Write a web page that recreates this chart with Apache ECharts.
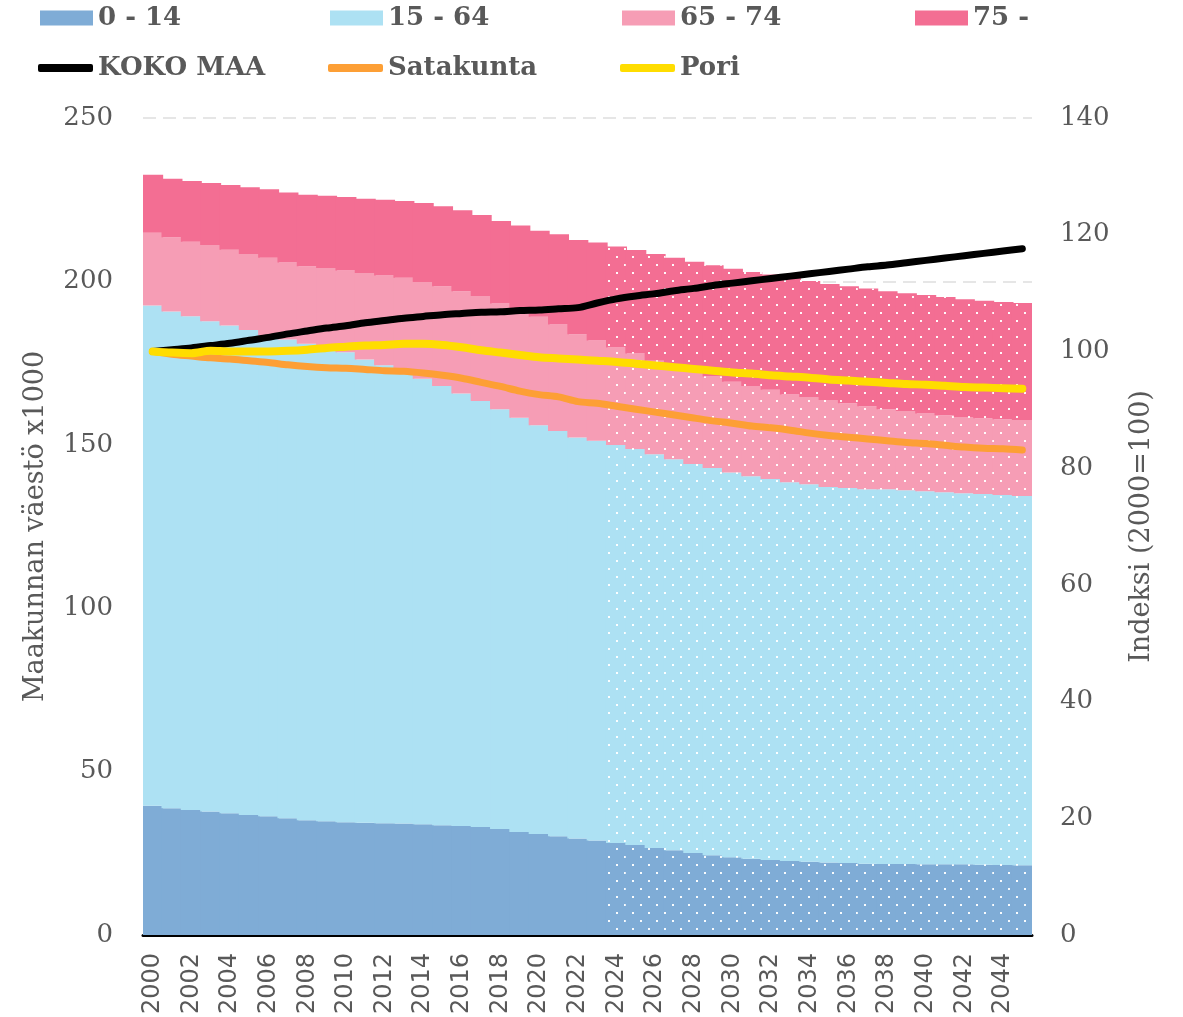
<!DOCTYPE html>
<html>
<head>
<meta charset="utf-8">
<script src="https://cdn.jsdelivr.net/npm/echarts@6/dist/echarts.min.js"></script>
<style>
html,body{margin:0;padding:0;background:#fff;}
#chart{width:1183px;height:1017px;}
</style>
</head>
<body>
<div id="chart"></div>
<script>
const years = ['2000','2001','2002','2003','2004','2005','2006','2007','2008','2009','2010','2011','2012','2013','2014','2015','2016','2017','2018','2019','2020','2021','2022','2023','2024','2025','2026','2027','2028','2029','2030','2031','2032','2033','2034','2035','2036','2037','2038','2039','2040','2041','2042','2043','2044','2045'];
const projectionStart = '2024';

// Population by age group, x1000 (left axis)
const age0_14 = [39.5,38.8,38.2,37.8,37.2,36.7,36.3,35.7,35.1,34.8,34.5,34.3,34.2,34.1,33.9,33.6,33.3,33.0,32.4,31.5,30.9,30.2,29.5,28.9,28.1,27.5,26.6,25.9,25.1,24.4,23.8,23.3,22.9,22.6,22.4,22.2,22.0,21.8,21.7,21.7,21.6,21.6,21.6,21.5,21.4,21.3];
const age15_64 = [153.1,152.0,151.1,150.0,149.3,148.4,147.2,146.5,145.8,145.0,143.8,141.8,140.1,138.0,136.3,134.4,132.4,130.4,128.5,126.8,125.1,124.0,122.7,122.3,121.8,121.2,120.5,119.7,119.0,118.5,117.7,117.1,116.6,115.9,115.5,114.9,114.8,114.6,114.7,114.4,114.2,113.9,113.6,113.4,113.2,113.0];
const age65_74 = [22.3,22.7,22.8,23.3,23.2,23.3,23.7,23.6,23.7,24.3,25.0,26.5,27.5,29.0,29.6,30.5,31.3,32.1,32.3,33.3,33.2,32.6,31.6,30.7,29.9,29.2,28.6,28.4,28.2,28.0,27.8,27.6,27.3,26.9,26.7,26.6,25.9,25.4,24.5,24.2,23.8,23.5,23.3,23.2,23.2,23.3];
const age75 = [17.7,17.9,18.6,19.0,19.8,20.4,21.0,21.4,21.9,22.1,22.5,22.7,23.2,23.5,24.2,24.5,24.8,24.8,25.3,25.5,26.3,27.6,28.9,30.0,30.9,31.7,32.7,33.2,33.7,34.0,34.6,34.9,35.3,35.7,35.5,35.5,35.8,36.0,36.1,36.1,36.2,36.2,36.0,36.0,35.9,35.8];

// Index 2000=100 (right axis)
const kokoMaa = [100.0,100.3,100.6,101.0,101.4,101.9,102.4,103.0,103.5,104.0,104.4,104.9,105.3,105.7,106.0,106.3,106.5,106.7,106.8,107.0,107.1,107.3,107.5,108.3,109.0,109.5,109.9,110.4,110.8,111.3,111.7,112.1,112.5,112.9,113.3,113.7,114.1,114.5,114.8,115.2,115.6,116.0,116.4,116.8,117.2,117.6];
const satakunta = [100.0,99.5,99.2,98.9,98.7,98.4,98.1,97.7,97.4,97.2,97.1,96.9,96.7,96.6,96.3,95.9,95.4,94.7,94.0,93.2,92.6,92.2,91.4,91.1,90.6,90.1,89.6,89.1,88.6,88.1,87.7,87.2,86.9,86.5,86.0,85.6,85.3,85.0,84.7,84.4,84.2,83.9,83.6,83.4,83.3,83.1];
const pori = [100.0,99.8,99.7,100.1,100.0,100.0,100.0,100.1,100.3,100.6,100.8,101.0,101.1,101.3,101.3,101.1,100.7,100.2,99.8,99.4,99.0,98.8,98.6,98.4,98.2,97.9,97.6,97.3,97.0,96.7,96.4,96.2,95.9,95.7,95.5,95.2,95.0,94.8,94.6,94.4,94.3,94.1,93.9,93.8,93.7,93.6];

const leftTicks = [0, 50, 100, 150, 200, 250];
const rightTicks = [0, 20, 40, 60, 80, 100, 120, 140];

const barNames = ['0 - 14','15 - 64','65 - 74','75 -'];
const barColors = ['#7FACD6','#ADE1F3','#F69DB5','#F36E93'];
const barData = [age0_14, age15_64, age65_74, age75];
const lineNames = ['KOKO MAA','Satakunta','Pori'];
const lineColors = ['#000000','#FD9F35','#FFDD00'];
const lineData = [kokoMaa, satakunta, pori];

const decal = {
  symbol: 'rect',
  symbolSize: 1,
  color: 'rgba(255,255,255,0.95)',
  backgroundColor: null,
  dashArrayX: [[2, 14], [0, 8, 2, 6]],
  dashArrayY: [2, 6],
  rotation: 0
};
const projIdx = years.indexOf(projectionStart);

const textColor = '#595959';
const serif = 'DejaVu Serif';

const series = [];
barData.forEach((arr, k) => {
  series.push({
    name: barNames[k],
    type: 'bar',
    stack: 'pop',
    barWidth: 21,
    color: barColors[k],
    itemStyle: { color: barColors[k], borderWidth: 0 },
    data: arr.map((v, i) => i >= projIdx ? { value: v, itemStyle: { decal: decal } } : v),
    z: 1
  });
});
lineData.forEach((arr, k) => {
  series.push({
    name: lineNames[k],
    type: 'line',
    yAxisIndex: 1,
    color: lineColors[k],
    symbol: 'none',
    showSymbol: false,
    smooth: 0.3,
    lineStyle: { color: lineColors[k], width: k === 2 ? 8 : 7, cap: 'round', join: 'round' },
    data: arr,
    z: 5 + k
  });
});

const legendCols = [40, 330, 622, 915];
const legends = [];
barNames.forEach((n, k) => {
  legends.push({
    data: [n], left: legendCols[k], top: 5, padding: 0,
    icon: 'rect', itemWidth: 53, itemHeight: 15,
    selectedMode: false,
    textStyle: { fontFamily: serif, fontWeight: 'bold', fontSize: 26, color: textColor }
  });
});
lineNames.forEach((n, k) => {
  legends.push({
    data: [n], left: legendCols[k] - 2, top: 55, padding: 0,
    icon: 'roundRect', itemWidth: 55, itemHeight: 8,
    selectedMode: false,
    textStyle: { fontFamily: serif, fontWeight: 'bold', fontSize: 26, color: textColor }
  });
});

const chart = echarts.init(document.getElementById('chart'), null, { renderer: 'canvas' });
chart.setOption({
  animation: false,
  backgroundColor: '#ffffff',
  legend: legends,
  grid: { left: 143, right: 151, top: 118, bottom: 80, containLabel: false },
  xAxis: {
    type: 'category',
    data: years,
    boundaryGap: true,
    axisLine: { show: true, lineStyle: { color: '#000000', width: 3 } },
    axisTick: { show: false },
    axisLabel: {
      interval: 1, rotate: 90, margin: 18,
      fontFamily: 'DejaVu Sans', fontSize: 24, color: textColor
    },
    splitLine: { show: false }
  },
  yAxis: [
    {
      type: 'value', min: leftTicks[0], max: leftTicks[leftTicks.length - 1], interval: 50,
      name: 'Maakunnan väestö x1000', nameLocation: 'middle', nameGap: 94, nameRotate: 90,
      nameTextStyle: { fontFamily: serif, fontSize: 27, color: textColor },
      axisLine: { show: false }, axisTick: { show: false },
      axisLabel: { margin: 30, fontFamily: serif, fontSize: 26, color: textColor, padding: [4, 0, 0, 0] },
      splitLine: { show: true, lineStyle: { color: '#E6E6E6', width: 2, type: [13, 7] } }
    },
    {
      type: 'value', min: rightTicks[0], max: rightTicks[rightTicks.length - 1], interval: 20,
      name: 'Indeksi (2000=100)', nameLocation: 'middle', nameGap: 96, nameRotate: 90,
      nameTextStyle: { fontFamily: serif, fontSize: 27, color: textColor },
      axisLine: { show: false }, axisTick: { show: false },
      axisLabel: { margin: 28, fontFamily: serif, fontSize: 26, color: textColor, padding: [4, 0, 0, 0] },
      splitLine: { show: false }
    }
  ],
  series: series
});
</script>
</body>
</html>
